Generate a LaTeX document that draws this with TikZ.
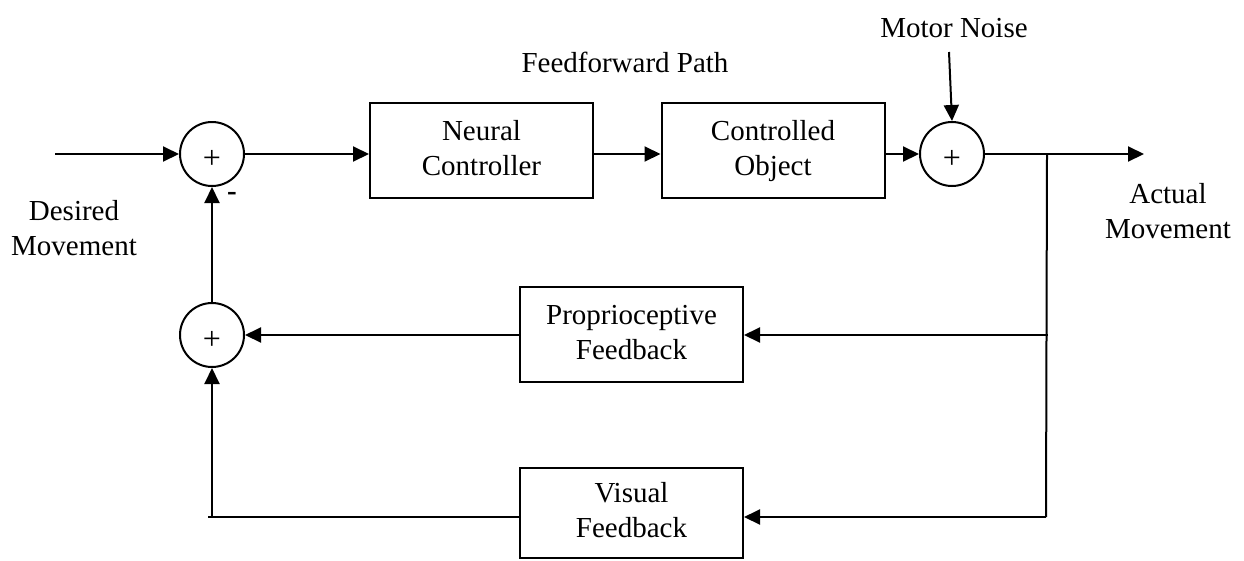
\documentclass[tikz,border=0pt]{standalone}
\usepackage{fontspec}
\setmainfont{Liberation Serif}
\usetikzlibrary{arrows.meta,calc}

\tikzset{
  every picture/.style={x=1pt,y=-1pt},
  wire/.style={line width=2pt},
  flow/.style={wire,-{Triangle[length=16pt,width=15pt]}},
  block/.style={draw,line width=2pt,minimum width=223pt,minimum height=95pt,
                align=center,inner sep=0pt},
  summer/.style={draw,circle,line width=2pt,minimum size=64pt,inner sep=0pt},
  plus/.style={inner sep=0pt,yshift=-5pt,font=\fontsize{32}{35}\selectfont},
  caption/.style={align=center,inner sep=0pt}
}
% two-line block text with equal line positions in every block
\newcommand{\twolines}[2]{\strut#1\\#2\strut}

\begin{document}
\begin{tikzpicture}[font=\fontsize{29}{35}\selectfont]
  \useasboundingbox (0,0) rectangle (1244,560);

  % summing junctions
  \node[summer] (s1) at (212,154) {};
  \node[summer] (s2) at (212,335) {};
  \node[summer] (s3) at (952,154) {};
  \node[plus] (p1) at (s1.center) {+};
  \node[plus] (p2) at (s2.center) {+};
  \node[plus] (p3) at (s3.center) {+};

  % blocks
  \node[block] (nc) at (481.5,150.5) {\twolines{Neural}{Controller}};
  \node[block] (co) at (773,150.5) {\twolines{Controlled}{Object}};
  \node[block] (pf) at (631.5,334.5) {\twolines{Proprioceptive}{Feedback}};
  \node[block,minimum height=90pt] (vf) at (631.5,513) {\twolines{Visual}{Feedback}};

  % free ends and branch points
  \coordinate (in) at (55,154);
  \coordinate (out) at (1144,154);
  \coordinate (tap) at (1047,154);
  \coordinate (tapP) at (1048,335);
  \coordinate (tapV) at (1046,517);
  \coordinate (noise) at (949,52);
  \coordinate (corner) at (208,517);

  % labels
  \node[caption] (ff) at (625,62) {Feedforward Path};
  \node[caption] (mn) at (954,28) {Motor Noise};
  \node[caption] (dm) at (74,228) {Desired\\Movement};
  \node[caption] (am) at (1168,211) {Actual\\Movement};
  \node[inner sep=0pt] (neg) at (232,196) {\bfseries -};

  % feedforward path
  \draw[flow] (in) -- (s1.west);
  \draw[flow] (s1.east) -- (nc.west |- s1);
  \draw[flow] (nc.east |- s1) -- (co.west |- s1);
  \draw[flow] (co.east |- s3) -- (s3.west);
  \draw[flow] (noise) -- (s3.north);
  \draw[flow] (s3.east) -- (out);

  % feedback paths
  \draw[wire] (tap) -- (tapV);
  \draw[flow] (tapP) -- (pf.east |- tapP);
  \draw[flow] (tapV) -- (vf.east |- tapV);
  \draw[flow] (pf.west |- s2) -- (s2.east);
  \draw[wire] (vf.west |- tapV) -- (corner);
  \draw[flow] (s2.south |- corner) -- (s2.south);
  \draw[flow] (s2.north) -- (s1.south);
\end{tikzpicture}
\end{document}
